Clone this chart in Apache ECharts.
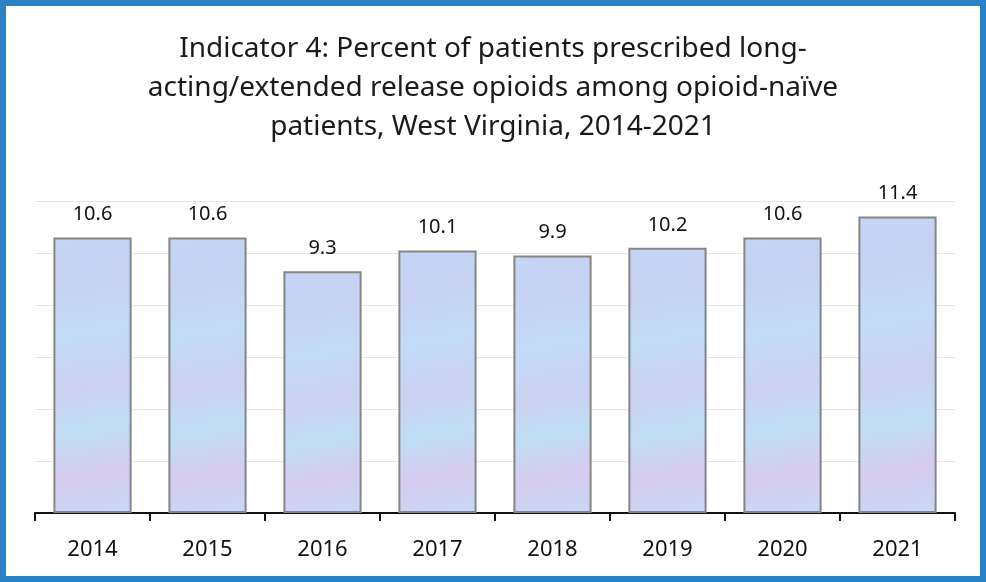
<!DOCTYPE html>
<html>
<head>
<meta charset="utf-8">
<script src="https://cdn.jsdelivr.net/npm/echarts@6/dist/echarts.min.js"></script>
<style>
html,body{margin:0;padding:0;background:#fff;}
#chart{width:986px;height:582px;}
</style>
</head>
<body>
<div id="chart"></div>
<script>
const titleText = "Indicator 4: Percent of patients prescribed long-\nacting/extended release opioids among opioid-naïve\npatients, West Virginia, 2014-2021";
const categories = ["2014","2015","2016","2017","2018","2019","2020","2021"];
const values = [10.6, 10.6, 9.3, 10.1, 9.9, 10.2, 10.6, 11.4];

const chart = echarts.init(document.getElementById('chart'), null, {renderer:'canvas'});
const barFill = new echarts.graphic.LinearGradient(0, 0, 0.6, 1, [
  {offset: 0, color: '#c3d6f6'},
  {offset: 0.15, color: '#c8d1f2'},
  {offset: 0.35, color: '#c2dcf7'},
  {offset: 0.55, color: '#cdd1f2'},
  {offset: 0.7, color: '#bfdff5'},
  {offset: 0.85, color: '#d6ccf0'},
  {offset: 1, color: '#cbd6f4'}
]);
chart.setOption({
  animation: false,
  backgroundColor: '#ffffff',
  title: {
    text: titleText,
    left: 'center',
    top: 25,
    textStyle: {
      fontFamily: 'Noto Sans',
      fontWeight: 'normal',
      fontSize: 28,
      lineHeight: 39,
      color: '#1a1a1a'
    }
  },
  grid: {left: 35, right: 31, top: 201, bottom: 69},
  xAxis: {
    type: 'category',
    data: categories,
    axisLine: {lineStyle: {color: '#111', width: 2}},
    axisTick: {show: true, length: 8, lineStyle: {color: '#111', width: 2}},
    axisLabel: {fontFamily: 'Noto Sans', fontSize: 22, color: '#111', margin: 26}
  },
  yAxis: {
    type: 'value',
    min: 0, max: 12, interval: 2,
    axisLabel: {show: false},
    axisLine: {show: false},
    axisTick: {show: false},
    splitLine: {lineStyle: {color: '#e6e6e6', width: 1}}
  },
  series: [{
    type: 'bar',
    data: values,
    barWidth: '68%',
    itemStyle: {color: barFill, borderColor: '#858585', borderWidth: 2},
    label: {
      show: true,
      position: 'top',
      distance: 13,
      fontFamily: 'Noto Sans',
      fontSize: 20,
      color: '#111',
      formatter: p => p.value.toFixed(1)
    }
  }],
  graphic: [{
    type: 'rect',
    shape: {x: 3, y: 3, width: 980, height: 576},
    style: {fill: 'none', stroke: '#2a83c7', lineWidth: 6},
    z: 100
  }]
});
</script>
</body>
</html>
